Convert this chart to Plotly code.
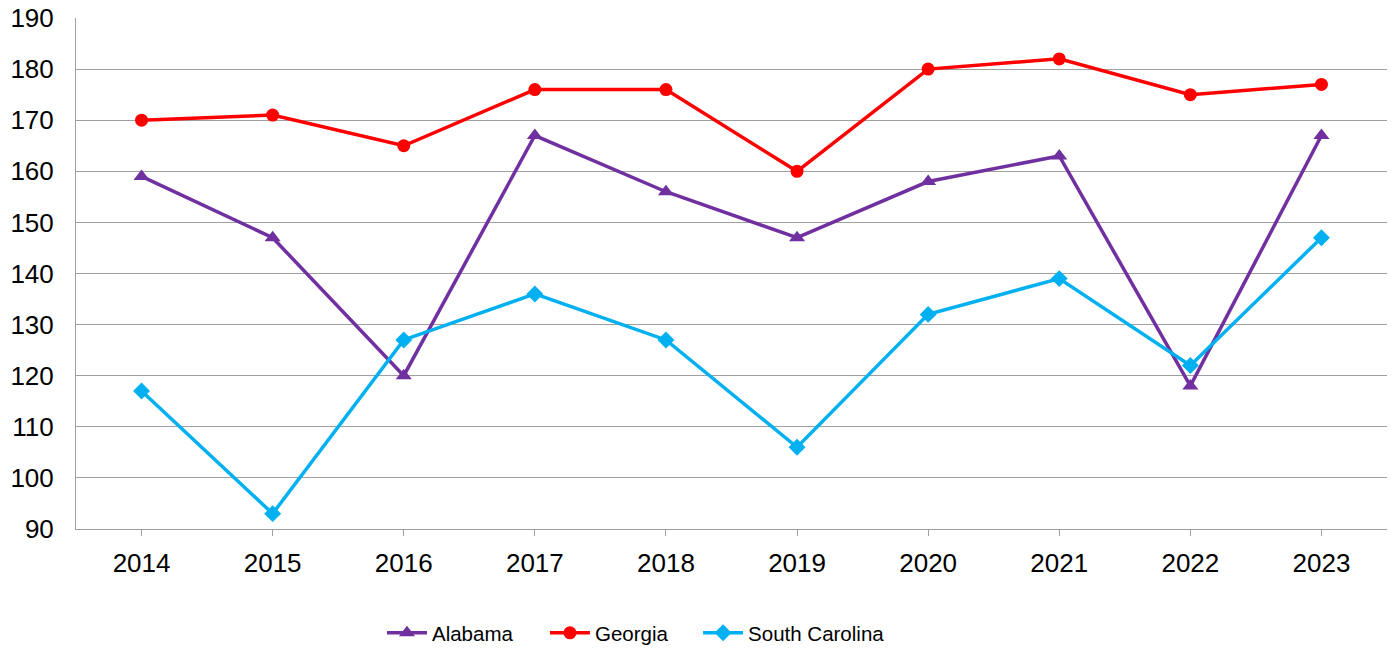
import plotly.graph_objects as go

years = ["2014", "2015", "2016", "2017", "2018", "2019", "2020", "2021", "2022", "2023"]
alabama = [159, 147, 120, 167, 156, 147, 158, 163, 118, 167]
georgia = [170, 171, 165, 176, 176, 160, 180, 182, 175, 177]
south_carolina = [117, 93, 127, 136, 127, 106, 132, 139, 122, 147]

series = [
    ("Alabama", alabama, "#7030A0", "triangle-up", 14, "legend", 0.2334),
    ("Georgia", georgia, "#FF0000", "circle", 13, "legend2", 0.3577),
    ("South Carolina", south_carolina, "#00B0F0", "diamond", 13, "legend3", 0.4745),
]

fig = go.Figure()
legend_layout = {}
for name, vals, color, sym, sz, leg, lx in series:
    fig.add_trace(go.Scatter(
        x=years, y=vals, name=name, mode="lines+markers",
        line=dict(color=color, width=3.5),
        marker=dict(symbol=sym, size=sz, color=color),
        legend=leg,
    ))
    legend_layout[leg] = dict(orientation="h", x=lx, xanchor="left", y=-0.2035, yanchor="middle",
                              font=dict(size=20.5), itemwidth=40, bgcolor="rgba(0,0,0,0)")

# page body has an 8px margin, so margins are offset by 8px
fig.update_layout(
    width=1397, height=651,
    margin=dict(l=68, r=18, t=10, b=130, autoexpand=False),
    plot_bgcolor="white", paper_bgcolor="white",
    font=dict(family="Liberation Sans, Arial, sans-serif", size=26, color="black"),
    showlegend=True,
    xaxis=dict(type="category", range=[-0.5, 9.5], showgrid=False, automargin=False,
               showline=True, linecolor="#A0A0A0", linewidth=1,
               ticks="outside", ticklen=6, tickcolor="#A0A0A0",
               ticklabelstandoff=5),
    yaxis=dict(range=[90, 190], dtick=10, showgrid=True, gridcolor="#A0A0A0", gridwidth=1,
               showline=True, linecolor="#A0A0A0", linewidth=1, automargin=False,
               ticks="", zeroline=False, ticklabelstandoff=16, ticklabeloverflow="allow"),
    **legend_layout,
)

fig.write_html("out.html")
